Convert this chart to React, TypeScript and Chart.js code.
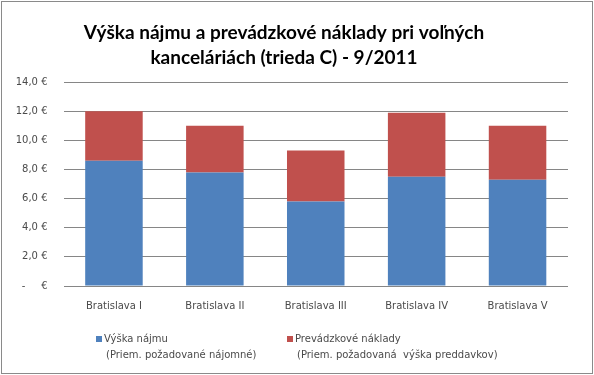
import React, { useEffect, useRef } from "react";
import { Chart, registerables } from "chart.js";

Chart.register(...registerables);

const categories = ["Bratislava I", "Bratislava II", "Bratislava III", "Bratislava IV", "Bratislava V"];
const rentValues = [8.6, 7.8, 5.8, 7.5, 7.3];
const costValues = [3.4, 3.2, 3.5, 4.4, 3.7];
const yTickLabels: Record<number, string> = {
  0: "-     €", 2: "2,0 €", 4: "4,0 €", 6: "6,0 €", 8: "8,0 €", 10: "10,0 €", 12: "12,0 €", 14: "14,0 €",
};
const titleLines = ["Výška nájmu a prevádzkové náklady pri voľných", "kanceláriách (trieda C) - 9/2011"];
const legendItems = [
  { lines: ["Výška nájmu", "(Priem. požadované nájomné)"], color: "#4F81BD" },
  { lines: ["Prevádzkové náklady", "(Priem. požadovaná  výška preddavkov)"], color: "#C0504D" },
];

const framePlugin = {
  id: "frame",
  beforeDraw(chart: any) {
    const { ctx, width, height } = chart;
    ctx.save();
    ctx.fillStyle = "#ffffff";
    ctx.fillRect(0, 0, width, height);
    ctx.strokeStyle = "#8a8a8a";
    ctx.lineWidth = 1;
    ctx.strokeRect(1.5, 1.5, width - 3, height - 3);
    ctx.restore();
  },
};

const legendPlugin = {
  id: "customLegend",
  afterDraw(chart: any) {
    const { ctx } = chart;
    const xs = [96, 287];
    ctx.save();
    ctx.font = "10px 'DejaVu Sans'";
    ctx.textBaseline = "middle";
    legendItems.forEach((it, i) => {
      const x = xs[i];
      ctx.fillStyle = it.color;
      ctx.fillRect(x, 336, 6, 6);
      ctx.fillStyle = "#4a4a4a";
      ctx.fillText(it.lines[0], x + 8, 339);
      ctx.fillText(it.lines[1], x + 10, 355);
    });
    ctx.restore();
  },
};

export default function App() {
  const ref = useRef<HTMLCanvasElement>(null);
  useEffect(() => {
    const chart = new Chart(ref.current!, {
      type: "bar",
      data: {
        labels: categories,
        datasets: [
          { label: "Výška nájmu", data: rentValues, backgroundColor: "#4F81BD", barPercentage: 0.57, categoryPercentage: 1 },
          { label: "Prevádzkové náklady", data: costValues, backgroundColor: "#C0504D", barPercentage: 0.57, categoryPercentage: 1 },
        ],
      },
      options: {
        animation: false,
        responsive: false,
        layout: { padding: { left: 0, right: 26, top: 0, bottom: 0 } },
        plugins: {
          legend: { display: false },
          tooltip: { enabled: false },
          title: {
            display: true,
            text: titleLines,
            color: "#000000",
            font: { family: "Lato", size: 19, weight: "bold", lineHeight: 1.32 },
            padding: { top: 20, bottom: 12 },
          },
        },
        scales: {
          x: {
            stacked: true,
            grid: { display: false, drawTicks: false },
            border: { display: false },
            ticks: { color: "#4a4a4a", font: { family: "DejaVu Sans", size: 10 }, padding: 14, maxRotation: 0 },
            afterFit: (s: any) => { s.height = 89; },
          },
          y: {
            stacked: true,
            min: 0,
            max: 14,
            grid: { color: "#868686", drawTicks: false },
            border: { display: false },
            ticks: {
              stepSize: 2,
              color: "#4a4a4a",
              font: { family: "DejaVu Sans", size: 10 },
              padding: 16,
              callback: (v: any) => yTickLabels[v as number] ?? "",
            },
            afterFit: (s: any) => { s.width = 63.5; },
          },
        },
      },
      plugins: [framePlugin, legendPlugin],
    });
    return () => chart.destroy();
  }, []);
  return (
    <div style={{ position: "fixed", left: 0, top: 0, width: 594, height: 375 }}>
      <canvas ref={ref} width={594} height={375} style={{ width: 594, height: 375 }} />
    </div>
  );
}
